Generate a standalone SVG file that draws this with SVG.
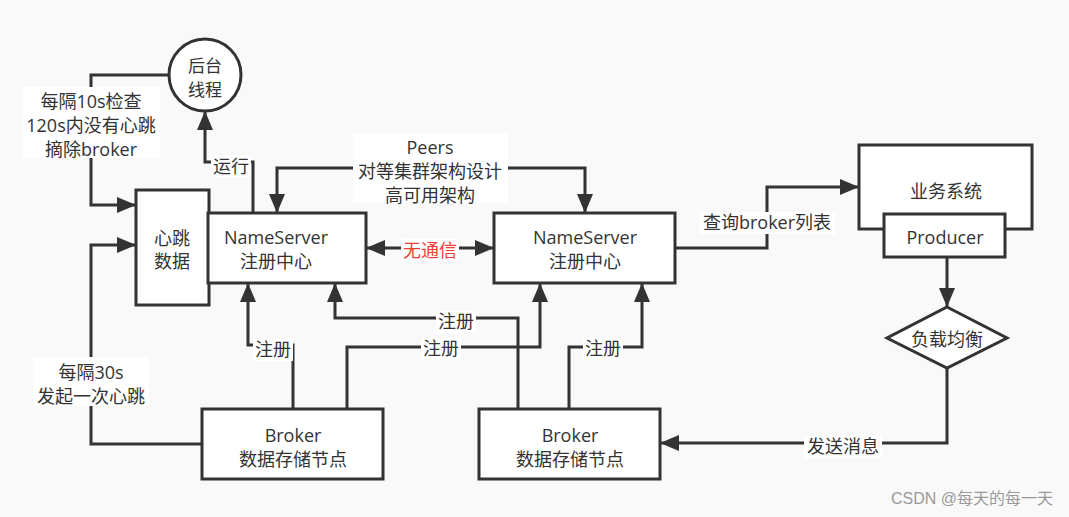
<svg xmlns="http://www.w3.org/2000/svg" width="1069" height="517" viewBox="0 0 1069 517">
<style>
.ln{fill:none;stroke:#333;stroke-width:3}
.box{fill:#fff;stroke:#333;stroke-width:3}
.t{font-family:"Open Sans","Noto Sans CJK SC",sans-serif;font-size:18px;fill:#333;text-anchor:middle}
.bg{fill:#fff}
.red{fill:#f03c3c}
.wm{font-family:"Liberation Sans","Noto Sans CJK SC",sans-serif;font-size:16px;fill:#9a9a9a;text-anchor:end}
</style>
<defs>
<marker id="ah" markerUnits="userSpaceOnUse" markerWidth="21" markerHeight="18" refX="19" refY="8" orient="auto-start-reverse" viewBox="0 0 21 18">
<path d="M0,0 L19,8 L0,16 z" fill="#333"/>
</marker>
</defs>
<rect width="1069" height="517" fill="#f9f9f9"/>
<g id="connectors">
<path class="ln" d="M169,75 H91 V205 H136" marker-end="url(#ah)"/>
<path class="ln" d="M253,213 V162 H205 V111" marker-end="url(#ah)"/>
<path class="ln" d="M277,213 V168 H585 V213" marker-start="url(#ah)" marker-end="url(#ah)"/>
<path class="ln" d="M366,248 H494" marker-start="url(#ah)" marker-end="url(#ah)"/>
<path class="ln" d="M675,248 H767 V187 H859" marker-end="url(#ah)"/>
<path class="ln" d="M947,257 V307" marker-end="url(#ah)"/>
<path class="ln" d="M947,368 V443 H660" marker-end="url(#ah)"/>
<path class="ln" d="M202,444 H91 V245 H136" marker-end="url(#ah)"/>
<path class="ln" d="M293,409 V345 H248 V283" marker-end="url(#ah)"/>
<path class="ln" d="M347,409 V347 H540 V283" marker-end="url(#ah)"/>
<path class="ln" d="M518,409 V318 H335 V283" marker-end="url(#ah)"/>
<path class="ln" d="M569,409 V347 H642 V283" marker-end="url(#ah)"/>
<rect class="bg" x="23" y="87" width="137" height="71"/>
<text class="t"><tspan x="91" y="108">每隔10s检查</tspan><tspan x="91" y="132">120s内没有心跳</tspan><tspan x="91" y="156">摘除broker</tspan></text>
<rect class="bg" x="211" y="155" width="40" height="22"/>
<text class="t" x="231" y="173">运行</text>
<rect class="bg" x="353" y="133" width="155" height="70"/>
<text class="t"><tspan x="430" y="154">Peers</tspan><tspan x="430" y="178">对等集群架构设计</tspan><tspan x="430" y="202">高可用架构</tspan></text>
<rect class="bg" x="401" y="239" width="58" height="22"/>
<text class="t red" x="430" y="257">无通信</text>
<rect class="bg" x="699" y="212" width="136" height="22"/>
<text class="t" x="767" y="229">查询broker列表</text>
<rect class="bg" x="804" y="436" width="78" height="22"/>
<text class="t" x="843" y="453">发送消息</text>
<rect class="bg" x="33" y="357" width="116" height="49"/>
<text class="t"><tspan x="91" y="379">每隔30s</tspan><tspan x="91" y="403">发起一次心跳</tspan></text>
<rect class="bg" x="253" y="339" width="40" height="22"/>
<text class="t" x="273" y="356">注册</text>
<rect class="bg" x="421" y="338" width="40" height="22"/>
<text class="t" x="441" y="355">注册</text>
<rect class="bg" x="436" y="311" width="40" height="22"/>
<text class="t" x="456" y="328">注册</text>
<rect class="bg" x="583" y="338" width="40" height="22"/>
<text class="t" x="603" y="355">注册</text>
</g>
<g id="thread">
<circle class="box" cx="205" cy="75" r="36"/>
<text class="t" style="font-size:17px"><tspan x="205" y="72">后台</tspan><tspan x="205" y="96">线程</tspan></text>
</g>
<g id="heartbeat">
<rect class="box" x="136" y="190" width="73" height="115"/>
<text class="t"><tspan x="172" y="245">心跳</tspan><tspan x="172" y="268">数据</tspan></text>
</g>
<g id="ns1">
<rect class="box" x="208" y="213" width="158" height="70"/>
<text class="t"><tspan x="276" y="244">NameServer</tspan><tspan x="276" y="268">注册中心</tspan></text>
</g>
<g id="ns2">
<rect class="box" x="494" y="213" width="181" height="70"/>
<text class="t"><tspan x="585" y="244">NameServer</tspan><tspan x="585" y="268">注册中心</tspan></text>
</g>
<g id="biz">
<rect class="box" x="859" y="145" width="173" height="84"/>
<text class="t" x="946" y="198">业务系统</text>
</g>
<g id="producer">
<rect class="box" x="884" y="214" width="121" height="43"/>
<text class="t" x="945" y="244">Producer</text>
</g>
<g id="lb">
<polygon class="box" points="947,307 1007,338 947,368 887,338"/>
<text class="t" x="947" y="346">负载均衡</text>
</g>
<g id="broker1">
<rect class="box" x="202" y="409" width="181" height="70"/>
<text class="t"><tspan x="293" y="442">Broker</tspan><tspan x="293" y="466">数据存储节点</tspan></text>
</g>
<g id="broker2">
<rect class="box" x="479" y="409" width="181" height="70"/>
<text class="t"><tspan x="570" y="442">Broker</tspan><tspan x="570" y="466">数据存储节点</tspan></text>
</g>
<text class="wm" x="1053" y="504">CSDN @每天的每一天</text>
</svg>
